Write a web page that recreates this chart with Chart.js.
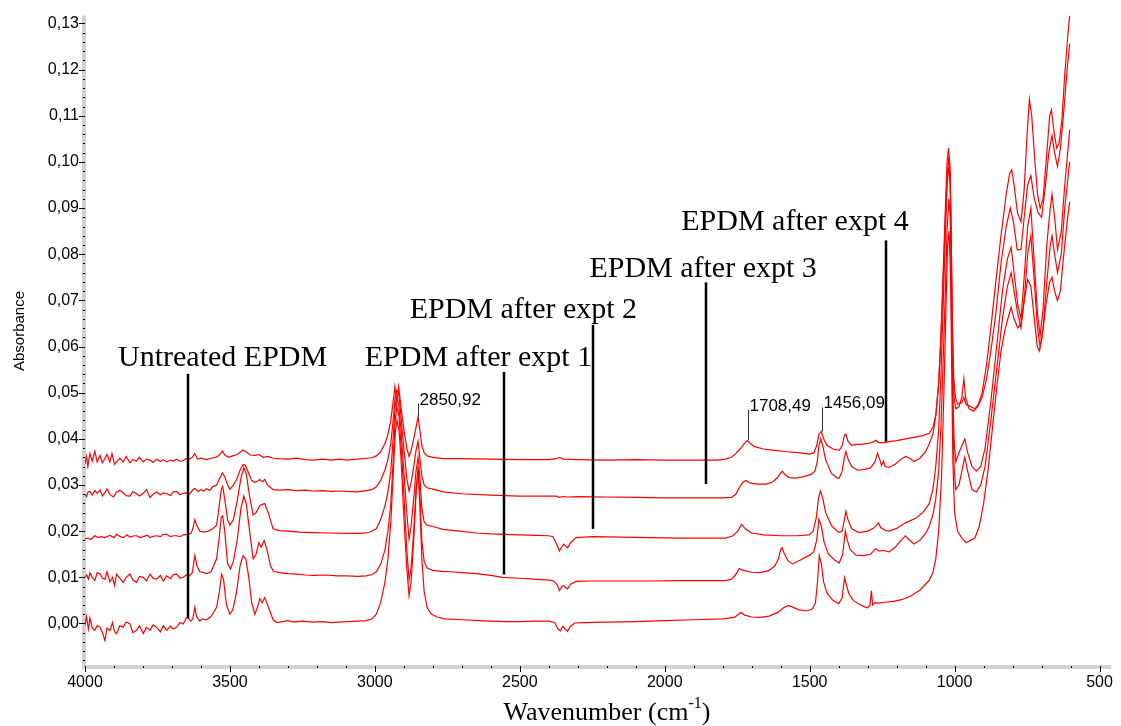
<!DOCTYPE html>
<html>
<head>
<meta charset="utf-8">
<script src="https://cdn.jsdelivr.net/npm/chart.js@4.4.1/dist/chart.umd.min.js"></script>
<style>
  html, body { margin: 0; padding: 0; background: #fff; }
</style>
</head>
<body>
<canvas id="ftirChart" width="1121" height="726"></canvas>
<script>
// [wavenumber cm-1, absorbance]
const untreated = [
  [4000, -0.0005], [3995, 0.0015], [3988, -0.0012], [3983, 0.0012], [3975, -0.0010], [3966, -0.0015],
  [3958, -0.0005], [3948, -0.0008], [3940, -0.0020], [3931, -0.0037], [3924, -0.0010], [3914, -0.0015],
  [3905, 0.0002], [3898, -0.0018], [3891, -0.0022], [3880, -0.0005], [3868, -0.0008], [3858, 0.0003],
  [3845, -0.0001], [3835, -0.0020], [3822, -0.0015], [3812, -0.0005], [3799, -0.0022], [3788, -0.0008],
  [3776, -0.0015], [3765, -0.0003], [3753, -0.0008], [3740, -0.0018], [3730, -0.0005], [3718, -0.0015],
  [3705, -0.0006], [3695, -0.0012], [3684, -0.0008], [3672, 0.0002], [3661, -0.0001], [3652, 0.0010],
  [3646, 0.0014], [3635, 0.0005], [3628, 0.0010], [3621, 0.0035], [3615, 0.0015], [3604, 0.0005],
  [3595, 0.0010], [3581, 0.0008], [3565, 0.0015], [3546, 0.0035], [3536, 0.0070], [3529, 0.0107],
  [3522, 0.0095], [3512, 0.0040], [3500, 0.0020], [3490, 0.0030], [3478, 0.0065], [3465, 0.0125],
  [3455, 0.0147], [3445, 0.0140], [3435, 0.0100], [3425, 0.0045], [3414, 0.0020], [3405, 0.0035],
  [3397, 0.0054], [3389, 0.0045], [3380, 0.0056], [3370, 0.0040], [3351, 0.0008], [3338, 0.0002],
  [3320, 0.0004], [3300, 0.0006], [3280, 0.0003], [3250, 0.0005], [3213, 0.0003], [3180, 0.0004],
  [3150, 0.0002], [3098, 0.0004], [3060, 0.0005], [3030, 0.0006], [3010, 0.0010], [2995, 0.0020],
  [2980, 0.0045], [2965, 0.0090], [2955, 0.0140], [2945, 0.0220], [2937, 0.0320], [2930, 0.0410],
  [2924, 0.0440], [2917, 0.0420], [2910, 0.0360], [2900, 0.0230], [2890, 0.0120], [2882, 0.0060],
  [2875, 0.0090], [2866, 0.0180], [2858, 0.0280], [2851, 0.0340], [2845, 0.0260], [2838, 0.0140],
  [2830, 0.0070], [2820, 0.0035], [2805, 0.0020], [2785, 0.0014], [2760, 0.0010], [2700, 0.0008],
  [2640, 0.0006], [2600, 0.0005], [2550, 0.0004], [2500, 0.0004], [2450, 0.0005], [2400, 0.0005],
  [2380, 0.0002], [2368, -0.0012], [2360, -0.0016], [2352, -0.0006], [2343, -0.0012], [2335, -0.0017],
  [2325, -0.0006], [2310, 0.0001], [2280, 0.0002], [2200, 0.0003], [2100, 0.0004], [2000, 0.0006],
  [1900, 0.0008], [1800, 0.0010], [1760, 0.0013], [1745, 0.0020], [1736, 0.0024], [1725, 0.0018],
  [1700, 0.0014], [1670, 0.0013], [1640, 0.0016], [1610, 0.0024], [1590, 0.0034], [1575, 0.0039],
  [1560, 0.0036], [1540, 0.0030], [1510, 0.0027], [1490, 0.0032], [1480, 0.0045], [1473, 0.0090],
  [1467, 0.0147], [1460, 0.0130], [1452, 0.0090], [1440, 0.0065], [1420, 0.0050], [1400, 0.0043],
  [1388, 0.0055], [1380, 0.0099], [1374, 0.0085], [1365, 0.0065], [1350, 0.0050], [1330, 0.0042],
  [1310, 0.0036], [1300, 0.0034], [1292, 0.0040], [1287, 0.0071], [1283, 0.0040], [1275, 0.0045],
  [1262, 0.0044], [1240, 0.0046], [1210, 0.0048], [1180, 0.0052], [1150, 0.0060], [1120, 0.0072],
  [1088, 0.0093], [1075, 0.0110], [1065, 0.0140], [1055, 0.0200], [1045, 0.0320], [1037, 0.0500],
  [1030, 0.0680], [1024, 0.0820], [1019, 0.0850], [1014, 0.0750], [1010, 0.0550], [1006, 0.0350],
  [1000, 0.0240], [990, 0.0200], [975, 0.0185], [960, 0.0175], [945, 0.0180], [930, 0.0185],
  [915, 0.0210], [900, 0.0260], [885, 0.0330], [870, 0.0420], [855, 0.0510], [840, 0.0590],
  [825, 0.0640], [812, 0.0670], [805, 0.0685], [795, 0.0660], [782, 0.0640], [771, 0.0650],
  [760, 0.0700], [748, 0.0745], [737, 0.0730], [725, 0.0660], [715, 0.0600], [708, 0.0590],
  [698, 0.0620], [685, 0.0690], [672, 0.0740], [664, 0.0750], [655, 0.0720], [645, 0.0700],
  [635, 0.0720], [625, 0.0790], [615, 0.0850], [608, 0.0890], [603, 0.0914]
];

const afterExpt1 = [
  [4000, 0.0100], [3994, 0.0105], [3988, 0.0096], [3983, 0.0110], [3975, 0.0100], [3966, 0.0093],
  [3958, 0.0110], [3948, 0.0107], [3940, 0.0098], [3931, 0.0096], [3924, 0.0112], [3914, 0.0090],
  [3905, 0.0100], [3898, 0.0082], [3891, 0.0107], [3880, 0.0098], [3868, 0.0089], [3858, 0.0100],
  [3845, 0.0107], [3835, 0.0094], [3822, 0.0089], [3812, 0.0102], [3799, 0.0100], [3788, 0.0092],
  [3776, 0.0107], [3765, 0.0098], [3753, 0.0096], [3740, 0.0104], [3730, 0.0092], [3718, 0.0103],
  [3705, 0.0097], [3695, 0.0106], [3684, 0.0107], [3672, 0.0098], [3661, 0.0100], [3650, 0.0105],
  [3640, 0.0103], [3630, 0.0110], [3621, 0.0147], [3614, 0.0125], [3604, 0.0112], [3590, 0.0110],
  [3581, 0.0108], [3565, 0.0112], [3546, 0.0140], [3538, 0.0180], [3530, 0.0230], [3525, 0.0233],
  [3518, 0.0200], [3508, 0.0130], [3498, 0.0118], [3488, 0.0135], [3475, 0.0180], [3462, 0.0250],
  [3452, 0.0276], [3444, 0.0260], [3432, 0.0200], [3420, 0.0140], [3410, 0.0150], [3400, 0.0175],
  [3392, 0.0165], [3382, 0.0180], [3372, 0.0160], [3360, 0.0125], [3350, 0.0113], [3330, 0.0110],
  [3300, 0.0108], [3270, 0.0107], [3240, 0.0105], [3210, 0.0104], [3170, 0.0105], [3130, 0.0103],
  [3098, 0.0103], [3060, 0.0102], [3030, 0.0103], [3010, 0.0106], [2995, 0.0112], [2980, 0.0128],
  [2965, 0.0160], [2955, 0.0200], [2945, 0.0260], [2937, 0.0350], [2930, 0.0440], [2924, 0.0470],
  [2917, 0.0450], [2910, 0.0390], [2900, 0.0280], [2890, 0.0160], [2882, 0.0095], [2875, 0.0120],
  [2866, 0.0200], [2858, 0.0290], [2851, 0.0330], [2845, 0.0280], [2838, 0.0180], [2830, 0.0135],
  [2820, 0.0120], [2800, 0.0115], [2770, 0.0113], [2740, 0.0112], [2700, 0.0110], [2650, 0.0108],
  [2600, 0.0104], [2560, 0.0100], [2500, 0.0098], [2450, 0.0096], [2400, 0.0094], [2386, 0.0093],
  [2372, 0.0085], [2363, 0.0071], [2355, 0.0080], [2349, 0.0082], [2342, 0.0078], [2335, 0.0075],
  [2325, 0.0085], [2306, 0.0091], [2250, 0.0092], [2150, 0.0092], [2050, 0.0092], [1950, 0.0093],
  [1850, 0.0093], [1790, 0.0093], [1770, 0.0096], [1755, 0.0106], [1743, 0.0119], [1728, 0.0115],
  [1700, 0.0111], [1670, 0.0110], [1640, 0.0115], [1620, 0.0125], [1608, 0.0140], [1600, 0.0160],
  [1595, 0.0164], [1588, 0.0152], [1575, 0.0136], [1559, 0.0129], [1530, 0.0138], [1500, 0.0148],
  [1486, 0.0155], [1476, 0.0180], [1468, 0.0226], [1460, 0.0212], [1450, 0.0175], [1435, 0.0150],
  [1415, 0.0138], [1398, 0.0131], [1386, 0.0150], [1377, 0.0200], [1370, 0.0180], [1360, 0.0160],
  [1340, 0.0148], [1315, 0.0147], [1290, 0.0150], [1272, 0.0162], [1262, 0.0157], [1245, 0.0158],
  [1226, 0.0155], [1205, 0.0165], [1185, 0.0180], [1170, 0.0190], [1158, 0.0182], [1140, 0.0172],
  [1120, 0.0180], [1100, 0.0195], [1088, 0.0210], [1075, 0.0235], [1065, 0.0270], [1055, 0.0330],
  [1047, 0.0430], [1040, 0.0560], [1033, 0.0700], [1026, 0.0850], [1020, 0.0920], [1015, 0.0880],
  [1011, 0.0700], [1007, 0.0480], [1002, 0.0340], [996, 0.0290], [985, 0.0300], [972, 0.0340],
  [965, 0.0360], [955, 0.0330], [940, 0.0290], [925, 0.0285], [910, 0.0300], [895, 0.0340],
  [875, 0.0440], [855, 0.0550], [835, 0.0660], [818, 0.0730], [805, 0.0760], [795, 0.0720],
  [782, 0.0670], [771, 0.0640], [760, 0.0700], [748, 0.0800], [737, 0.0840], [725, 0.0740],
  [714, 0.0640], [705, 0.0600], [695, 0.0640], [682, 0.0740], [670, 0.0820], [664, 0.0840],
  [655, 0.0800], [645, 0.0760], [632, 0.0800], [620, 0.0900], [610, 0.0960], [603, 0.1000]
];

const afterExpt2 = [
  [4000, 0.0183], [3990, 0.0185], [3980, 0.0182], [3966, 0.0190], [3955, 0.0186], [3945, 0.0188],
  [3931, 0.0186], [3914, 0.0191], [3900, 0.0186], [3891, 0.0193], [3878, 0.0188], [3868, 0.0186],
  [3855, 0.0192], [3845, 0.0187], [3830, 0.0190], [3822, 0.0190], [3810, 0.0186], [3799, 0.0188],
  [3785, 0.0191], [3776, 0.0186], [3765, 0.0189], [3753, 0.0190], [3740, 0.0188], [3730, 0.0193],
  [3718, 0.0193], [3705, 0.0188], [3695, 0.0190], [3684, 0.0190], [3672, 0.0188], [3661, 0.0192],
  [3646, 0.0193], [3635, 0.0195], [3628, 0.0205], [3621, 0.0225], [3614, 0.0212], [3604, 0.0200],
  [3590, 0.0198], [3575, 0.0200], [3560, 0.0205], [3546, 0.0213], [3538, 0.0250], [3530, 0.0290],
  [3525, 0.0297], [3518, 0.0270], [3508, 0.0225], [3500, 0.0213], [3488, 0.0225], [3475, 0.0265],
  [3462, 0.0315], [3452, 0.0337], [3444, 0.0325], [3432, 0.0275], [3420, 0.0235], [3410, 0.0240],
  [3397, 0.0255], [3388, 0.0258], [3380, 0.0260], [3368, 0.0240], [3351, 0.0205], [3330, 0.0201],
  [3300, 0.0200], [3260, 0.0198], [3213, 0.0197], [3160, 0.0196], [3098, 0.0195], [3050, 0.0195],
  [3020, 0.0197], [2995, 0.0205], [2980, 0.0225], [2965, 0.0255], [2955, 0.0285], [2945, 0.0330],
  [2937, 0.0400], [2930, 0.0470], [2924, 0.0490], [2917, 0.0470], [2910, 0.0420], [2900, 0.0330],
  [2890, 0.0240], [2882, 0.0183], [2875, 0.0210], [2866, 0.0270], [2858, 0.0330], [2851, 0.0360],
  [2845, 0.0320], [2838, 0.0250], [2830, 0.0220], [2820, 0.0213], [2800, 0.0210], [2765, 0.0204],
  [2708, 0.0200], [2650, 0.0196], [2600, 0.0194], [2559, 0.0193], [2500, 0.0192], [2440, 0.0191],
  [2400, 0.0190], [2386, 0.0188], [2375, 0.0175], [2363, 0.0157], [2356, 0.0165], [2349, 0.0172],
  [2342, 0.0168], [2335, 0.0164], [2325, 0.0175], [2306, 0.0186], [2248, 0.0188], [2150, 0.0187],
  [2050, 0.0186], [1950, 0.0185], [1850, 0.0185], [1790, 0.0185], [1765, 0.0190], [1748, 0.0200],
  [1735, 0.0215], [1722, 0.0205], [1700, 0.0196], [1660, 0.0192], [1600, 0.0190], [1546, 0.0190],
  [1502, 0.0192], [1488, 0.0200], [1477, 0.0230], [1470, 0.0270], [1463, 0.0287], [1455, 0.0272],
  [1445, 0.0240], [1425, 0.0212], [1400, 0.0197], [1388, 0.0200], [1380, 0.0225], [1375, 0.0243],
  [1368, 0.0225], [1355, 0.0205], [1330, 0.0197], [1300, 0.0200], [1280, 0.0206], [1270, 0.0213],
  [1263, 0.0218], [1255, 0.0208], [1240, 0.0202], [1226, 0.0200], [1200, 0.0206], [1170, 0.0218],
  [1134, 0.0228], [1110, 0.0240], [1088, 0.0259], [1075, 0.0290], [1065, 0.0340], [1055, 0.0420],
  [1047, 0.0540], [1040, 0.0680], [1033, 0.0820], [1026, 0.0950], [1020, 0.0990], [1015, 0.0950],
  [1011, 0.0760], [1007, 0.0530], [1002, 0.0400], [996, 0.0350], [985, 0.0370], [972, 0.0390],
  [965, 0.0400], [955, 0.0370], [940, 0.0340], [925, 0.0330], [910, 0.0340], [895, 0.0380],
  [875, 0.0480], [855, 0.0600], [835, 0.0720], [818, 0.0790], [805, 0.0815], [795, 0.0760],
  [782, 0.0690], [771, 0.0660], [760, 0.0750], [748, 0.0860], [737, 0.0900], [725, 0.0780],
  [714, 0.0670], [705, 0.0625], [695, 0.0680], [682, 0.0820], [670, 0.0900], [664, 0.0930],
  [655, 0.0880], [645, 0.0810], [632, 0.0850], [620, 0.0950], [610, 0.1020], [603, 0.1070]
];

const afterExpt3 = [
  [4000, 0.0280], [3995, 0.0275], [3990, 0.0285], [3983, 0.0286], [3975, 0.0278], [3966, 0.0288],
  [3958, 0.0282], [3948, 0.0289], [3940, 0.0276], [3931, 0.0284], [3924, 0.0292], [3914, 0.0279],
  [3902, 0.0274], [3891, 0.0285], [3880, 0.0288], [3868, 0.0283], [3858, 0.0277], [3845, 0.0276],
  [3835, 0.0286], [3822, 0.0281], [3812, 0.0276], [3799, 0.0282], [3788, 0.0290], [3776, 0.0273],
  [3765, 0.0280], [3753, 0.0285], [3740, 0.0279], [3730, 0.0283], [3718, 0.0281], [3705, 0.0277],
  [3695, 0.0285], [3684, 0.0286], [3672, 0.0279], [3661, 0.0282], [3650, 0.0283], [3640, 0.0280],
  [3630, 0.0288], [3621, 0.0293], [3610, 0.0286], [3600, 0.0290], [3590, 0.0287], [3581, 0.0292],
  [3570, 0.0288], [3560, 0.0296], [3546, 0.0300], [3535, 0.0315], [3526, 0.0326], [3518, 0.0318],
  [3508, 0.0300], [3500, 0.0291], [3490, 0.0298], [3477, 0.0312], [3465, 0.0332], [3455, 0.0344],
  [3447, 0.0343], [3435, 0.0325], [3425, 0.0310], [3415, 0.0306], [3405, 0.0308], [3397, 0.0312],
  [3388, 0.0307], [3380, 0.0312], [3370, 0.0300], [3351, 0.0290], [3330, 0.0289], [3300, 0.0290],
  [3270, 0.0288], [3240, 0.0289], [3213, 0.0287], [3180, 0.0288], [3150, 0.0286], [3120, 0.0287],
  [3098, 0.0286], [3060, 0.0285], [3030, 0.0288], [3010, 0.0290], [2995, 0.0296], [2980, 0.0310],
  [2965, 0.0333], [2955, 0.0355], [2945, 0.0390], [2937, 0.0440], [2930, 0.0490], [2924, 0.0505],
  [2917, 0.0495], [2910, 0.0450], [2900, 0.0380], [2890, 0.0315], [2882, 0.0287], [2875, 0.0305],
  [2866, 0.0340], [2858, 0.0375], [2851, 0.0395], [2845, 0.0360], [2838, 0.0320], [2830, 0.0300],
  [2820, 0.0294], [2800, 0.0291], [2765, 0.0285], [2700, 0.0281], [2600, 0.0278], [2500, 0.0276],
  [2400, 0.0276], [2375, 0.0276], [2363, 0.0273], [2350, 0.0275], [2335, 0.0274], [2300, 0.0275],
  [2200, 0.0274], [2100, 0.0273], [2000, 0.0272], [1900, 0.0272], [1800, 0.0272], [1770, 0.0273],
  [1755, 0.0280], [1745, 0.0292], [1732, 0.0305], [1720, 0.0310], [1705, 0.0304], [1680, 0.0302],
  [1650, 0.0302], [1630, 0.0306], [1612, 0.0315], [1600, 0.0326], [1594, 0.0330], [1585, 0.0322],
  [1570, 0.0316], [1550, 0.0315], [1520, 0.0318], [1495, 0.0323], [1482, 0.0330], [1474, 0.0350],
  [1468, 0.0385], [1462, 0.0400], [1455, 0.0385], [1445, 0.0355], [1425, 0.0325], [1405, 0.0315],
  [1398, 0.0315], [1388, 0.0330], [1380, 0.0360], [1375, 0.0373], [1367, 0.0355], [1355, 0.0340],
  [1335, 0.0332], [1310, 0.0334], [1290, 0.0337], [1275, 0.0350], [1266, 0.0369], [1258, 0.0355],
  [1252, 0.0342], [1245, 0.0352], [1240, 0.0340], [1226, 0.0338], [1205, 0.0345], [1185, 0.0356],
  [1169, 0.0362], [1155, 0.0358], [1140, 0.0351], [1120, 0.0358], [1100, 0.0372], [1088, 0.0388],
  [1075, 0.0410], [1065, 0.0450], [1055, 0.0520], [1047, 0.0620], [1040, 0.0740], [1033, 0.0860],
  [1026, 0.0970], [1020, 0.1010], [1015, 0.0970], [1011, 0.0800], [1007, 0.0600], [1002, 0.0490],
  [996, 0.0465], [985, 0.0470], [975, 0.0490], [968, 0.0530], [962, 0.0490], [950, 0.0465],
  [935, 0.0460], [920, 0.0470], [905, 0.0490], [890, 0.0530], [875, 0.0590], [858, 0.0670],
  [840, 0.0780], [822, 0.0860], [808, 0.0900], [797, 0.0870], [784, 0.0810], [771, 0.0810],
  [760, 0.0880], [748, 0.0950], [737, 0.0970], [725, 0.0920], [712, 0.0890], [700, 0.0880],
  [688, 0.0940], [675, 0.1020], [664, 0.1057], [655, 0.1020], [645, 0.0990], [635, 0.1030],
  [622, 0.1120], [612, 0.1200], [603, 0.1256]
];

const afterExpt4 = [
  [4000, 0.0345], [3995, 0.0362], [3990, 0.0340], [3983, 0.0368], [3975, 0.0352], [3966, 0.0373],
  [3958, 0.0350], [3948, 0.0364], [3940, 0.0348], [3931, 0.0358], [3924, 0.0366], [3914, 0.0350],
  [3907, 0.0368], [3898, 0.0345], [3891, 0.0350], [3880, 0.0358], [3868, 0.0350], [3858, 0.0362],
  [3845, 0.0348], [3835, 0.0355], [3822, 0.0352], [3812, 0.0360], [3799, 0.0350], [3788, 0.0356],
  [3776, 0.0354], [3765, 0.0349], [3753, 0.0356], [3740, 0.0351], [3730, 0.0355], [3718, 0.0350],
  [3705, 0.0354], [3695, 0.0352], [3684, 0.0356], [3672, 0.0351], [3661, 0.0353], [3650, 0.0357],
  [3640, 0.0356], [3630, 0.0360], [3621, 0.0368], [3612, 0.0356], [3600, 0.0358], [3581, 0.0355],
  [3565, 0.0358], [3546, 0.0360], [3535, 0.0366], [3526, 0.0374], [3518, 0.0365], [3505, 0.0360],
  [3490, 0.0363], [3475, 0.0366], [3462, 0.0372], [3455, 0.0376], [3445, 0.0372], [3430, 0.0365],
  [3415, 0.0364], [3400, 0.0366], [3385, 0.0360], [3370, 0.0362], [3350, 0.0358], [3330, 0.0357],
  [3300, 0.0356], [3270, 0.0358], [3240, 0.0355], [3213, 0.0354], [3180, 0.0356], [3150, 0.0354],
  [3120, 0.0356], [3098, 0.0354], [3060, 0.0356], [3030, 0.0358], [3010, 0.0359], [2995, 0.0363],
  [2980, 0.0372], [2965, 0.0390], [2955, 0.0410], [2945, 0.0440], [2937, 0.0480], [2931, 0.0513],
  [2925, 0.0480], [2918, 0.0513], [2910, 0.0470], [2900, 0.0420], [2890, 0.0380], [2882, 0.0362],
  [2875, 0.0375], [2866, 0.0400], [2858, 0.0425], [2851, 0.0448], [2845, 0.0420], [2838, 0.0385],
  [2830, 0.0370], [2820, 0.0363], [2800, 0.0360], [2765, 0.0357], [2700, 0.0357], [2600, 0.0356],
  [2500, 0.0355], [2400, 0.0355], [2375, 0.0357], [2363, 0.0360], [2350, 0.0356], [2300, 0.0355],
  [2200, 0.0354], [2100, 0.0355], [2000, 0.0354], [1900, 0.0354], [1820, 0.0354], [1790, 0.0356],
  [1770, 0.0360], [1755, 0.0368], [1740, 0.0378], [1728, 0.0388], [1715, 0.0396], [1705, 0.0390],
  [1690, 0.0383], [1660, 0.0378], [1620, 0.0375], [1580, 0.0372], [1540, 0.0370], [1500, 0.0367],
  [1485, 0.0370], [1476, 0.0385], [1468, 0.0410], [1460, 0.0416], [1452, 0.0400], [1440, 0.0386],
  [1420, 0.0378], [1398, 0.0375], [1388, 0.0385], [1380, 0.0408], [1375, 0.0410], [1368, 0.0395],
  [1355, 0.0386], [1340, 0.0388], [1320, 0.0388], [1300, 0.0390], [1282, 0.0393], [1272, 0.0397],
  [1262, 0.0392], [1245, 0.0392], [1226, 0.0394], [1200, 0.0396], [1169, 0.0400], [1140, 0.0403],
  [1110, 0.0407], [1088, 0.0412], [1075, 0.0425], [1065, 0.0450], [1055, 0.0520], [1047, 0.0630],
  [1040, 0.0750], [1033, 0.0880], [1026, 0.1000], [1021, 0.1030], [1016, 0.0990], [1012, 0.0850],
  [1008, 0.0660], [1003, 0.0530], [997, 0.0490], [990, 0.0475], [975, 0.0478], [968, 0.0490],
  [960, 0.0474], [945, 0.0470], [930, 0.0465], [918, 0.0475], [905, 0.0500], [890, 0.0560],
  [875, 0.0640], [858, 0.0740], [840, 0.0840], [822, 0.0930], [810, 0.0975], [803, 0.0983],
  [795, 0.0950], [783, 0.0890], [771, 0.0870], [760, 0.0940], [750, 0.1060], [742, 0.1135],
  [734, 0.1100], [724, 0.1010], [714, 0.0930], [705, 0.0900], [695, 0.0920], [683, 0.1010],
  [672, 0.1100], [666, 0.1113], [658, 0.1070], [648, 0.1030], [640, 0.1040], [630, 0.1090],
  [620, 0.1190], [610, 0.1270], [603, 0.1317]
];

const seriesNames = ['Untreated EPDM', 'EPDM after expt 1', 'EPDM after expt 2', 'EPDM after expt 3', 'EPDM after expt 4'];
const spectra = [untreated, afterExpt1, afterExpt2, afterExpt3, afterExpt4];

const xTickValues = [4000, 3500, 3000, 2500, 2000, 1500, 1000, 500];
const yTickValues = [0, 0.01, 0.02, 0.03, 0.04, 0.05, 0.06, 0.07, 0.08, 0.09, 0.10, 0.11, 0.12, 0.13];

// sample labels: text left edge / baseline and the pointer line, in data units
const sampleLabels = [
  { text: 'Untreated EPDM', textWn: 3886, textAbs: 0.0558, lineWn: 3645, lineTop: 0.0541, lineBottom: 0.0011 },
  { text: 'EPDM after expt 1', textWn: 3035, textAbs: 0.0558, lineWn: 2556, lineTop: 0.0545, lineBottom: 0.0106 },
  { text: 'EPDM after expt 2', textWn: 2880, textAbs: 0.0662, lineWn: 2246, lineTop: 0.0647, lineBottom: 0.0205 },
  { text: 'EPDM after expt 3', textWn: 2260, textAbs: 0.0750, lineWn: 1857, lineTop: 0.0739, lineBottom: 0.0302 },
  { text: 'EPDM after expt 4', textWn: 1943, textAbs: 0.0853, lineWn: 1236, lineTop: 0.0830, lineBottom: 0.0394 }
];

const peakLabels = [
  { text: '2850,92', wn: 2851, textAbs: 0.0474, peakAbs: 0.0448 },
  { text: '1708,49', wn: 1712, textAbs: 0.0461, peakAbs: 0.0397 },
  { text: '1456,09', wn: 1459, textAbs: 0.0466, peakAbs: 0.0416 }
];

const decor = {
  id: 'decor',
  beforeDatasetsDraw(chart) {
    const { ctx, chartArea: a, scales: { x, y } } = chart;
    ctx.save();
    // grey axis bands
    ctx.fillStyle = '#d2d2d2';
    ctx.fillRect(a.left - 3, a.top, 4, a.bottom - a.top + 3);
    ctx.fillRect(a.left - 3, a.bottom, a.right - a.left + 3, 4);
    ctx.fillStyle = '#000';
    for (let w = 4000; w >= 500; w -= 100) {
      const px = Math.round(x.getPixelForValue(w));
      const major = w % 500 === 0;
      ctx.fillRect(px, a.bottom + 1, 1, major ? 6 : 2);
    }
    for (let k = -4; k <= 65; k++) {
      const py = Math.round(y.getPixelForValue(k / 500));
      const major = k % 5 === 0;
      ctx.fillRect(a.left - (major ? 6 : 2), py, major ? 6 : 2, 1);
    }
    ctx.restore();
  },
  afterDatasetsDraw(chart) {
    const { ctx, scales: { x, y } } = chart;
    ctx.save();
    ctx.fillStyle = '#000';
    ctx.strokeStyle = '#000';
    ctx.textBaseline = 'alphabetic';

    ctx.font = '30px "Liberation Serif", "Times New Roman", serif';
    ctx.lineWidth = 2.5;
    sampleLabels.forEach(l => {
      ctx.textAlign = 'left';
      ctx.fillText(l.text, x.getPixelForValue(l.textWn), y.getPixelForValue(l.textAbs));
      const lx = Math.round(x.getPixelForValue(l.lineWn));
      ctx.beginPath();
      ctx.moveTo(lx, y.getPixelForValue(l.lineTop));
      ctx.lineTo(lx, y.getPixelForValue(l.lineBottom));
      ctx.stroke();
    });

    ctx.font = '17px "Liberation Sans", Arial, sans-serif';
    ctx.lineWidth = 1;
    ctx.strokeStyle = '#333';
    peakLabels.forEach(p => {
      const px = Math.round(x.getPixelForValue(p.wn)) + 0.5;
      ctx.fillText(p.text, px + 1, y.getPixelForValue(p.textAbs));
      ctx.beginPath();
      ctx.moveTo(px, y.getPixelForValue(p.textAbs) - 1);
      ctx.lineTo(px, y.getPixelForValue(p.peakAbs));
      ctx.stroke();
    });

    // axis titles
    ctx.font = '15px "Liberation Sans", Arial, sans-serif';
    ctx.save();
    ctx.translate(24, 331);
    ctx.rotate(-Math.PI / 2);
    ctx.textAlign = 'center';
    ctx.fillText('Absorbance', 0, 0);
    ctx.restore();

    const main = 'Wavenumber (cm';
    const big = '26px "Liberation Serif", "Times New Roman", serif';
    const small = '16px "Liberation Serif", "Times New Roman", serif';
    ctx.font = big;
    const w1 = ctx.measureText(main).width;
    const w3 = ctx.measureText(')').width;
    ctx.font = small;
    const w2 = ctx.measureText('-1').width;
    const tx = 607 - (w1 + w2 + w3) / 2;
    ctx.textAlign = 'left';
    ctx.font = big;
    ctx.fillText(main, tx, 720);
    ctx.fillText(')', tx + w1 + w2, 720);
    ctx.font = small;
    ctx.fillText('-1', tx + w1, 708);
    ctx.restore();
  }
};

new Chart(document.getElementById('ftirChart'), {
  type: 'line',
  data: {
    datasets: spectra.map((s, i) => ({
      label: seriesNames[i],
      data: s.map(p => ({ x: p[0], y: p[1] })),
      borderColor: '#ff0000',
      borderWidth: 1.2,
      pointRadius: 0,
      tension: 0,
      fill: false
    }))
  },
  options: {
    responsive: false,
    animation: false,
    layout: { padding: { top: 12, right: 9, left: 0, bottom: 0 } },
    plugins: { legend: { display: false }, tooltip: { enabled: false } },
    scales: {
      x: {
        type: 'linear',
        reverse: true,
        min: 460,
        max: 4000,
        afterFit: s => { s.height = 61; },
        afterBuildTicks: s => { s.ticks = xTickValues.map(v => ({ value: v })); },
        grid: { display: false, drawTicks: false },
        border: { display: false },
        ticks: {
          color: '#000',
          font: { family: 'Liberation Sans', size: 16 },
          padding: 8,
          maxRotation: 0,
          autoSkip: false,
          callback: v => String(v)
        }
      },
      y: {
        type: 'linear',
        min: -0.009,
        max: 0.1317,
        afterFit: s => { s.width = 85; },
        afterBuildTicks: s => { s.ticks = yTickValues.map(v => ({ value: v })); },
        grid: { display: false, drawTicks: false },
        border: { display: false },
        ticks: {
          color: '#000',
          font: { family: 'Liberation Sans', size: 16 },
          padding: 6,
          autoSkip: false,
          callback: v => v.toFixed(2).replace('.', ',')
        }
      }
    }
  },
  plugins: [decor]
});
</script>
</body>
</html>
